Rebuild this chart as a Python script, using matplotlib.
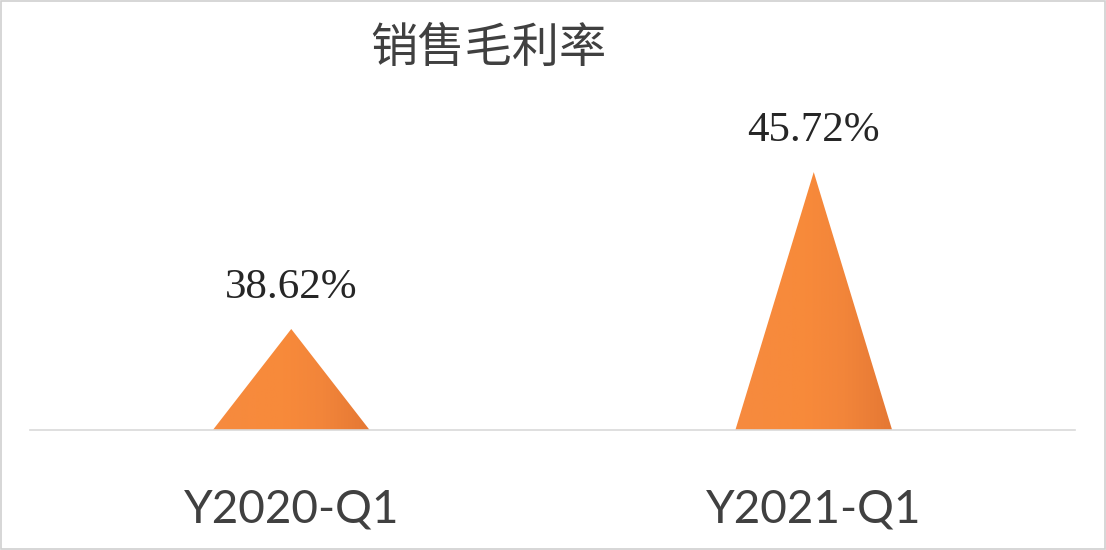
import matplotlib.pyplot as plt
import numpy as np
from matplotlib.patches import Polygon
from matplotlib.colors import LinearSegmentedColormap

categories = ["Y2020-Q1", "Y2021-Q1"]
values = [38.62, 45.72]
labels = ["38.62%", "45.72%"]
title = "销售毛利率"

fig = plt.figure(figsize=(11.06, 5.5), dpi=100)
ax = fig.add_axes([30 / 1106, 0.2182, 1045 / 1106, 0.6007])
ax.set_xlim(-0.5, 1.5)
ax.set_ylim(34.05, 49)

# orange shading, nearly flat with a darker right edge
cmap = LinearSegmentedColormap.from_list(
    "cone", [(0, "#F68A3F"), (0.45, "#F88A3A"), (0.7, "#F2853A"), (1, "#E57834")])
width = 0.30
grad = np.linspace(0, 1, 256).reshape(1, -1)
base = ax.get_ylim()[0]
for i, v in enumerate(values):
    tri = Polygon([(i - width / 2, base), (i, v), (i + width / 2, base)],
                  closed=True, facecolor="none", edgecolor="none")
    ax.add_patch(tri)
    im = ax.imshow(grad, cmap=cmap, aspect="auto",
                   extent=(i - width / 2, i + width / 2, base, v), zorder=2)
    im.set_clip_path(tri)
    ax.text(i, v + 1.0, labels[i], ha="center", va="bottom",
            fontsize=31, family="Liberation Serif", color="#262626")

ax.set_xlim(-0.5, 1.5)
ax.set_ylim(34.05, 49)
for s in ["top", "right", "left"]:
    ax.spines[s].set_visible(False)
ax.spines["bottom"].set_color("#D9D9D9")
ax.spines["bottom"].set_linewidth(1.2)
ax.set_yticks([])
ax.set_xticks(range(len(categories)))
ax.set_xticklabels(categories, fontsize=33, family="Lato", color="#404040")
ax.tick_params(axis="x", length=0, pad=42)

fig.text(488 / 1106, 1 - 49 / 550, title, ha="center", va="center",
         fontsize=34, family=["Noto Sans CJK SC", "DejaVu Sans"],
         fontweight="light", color="#404040")

fig.patches.append(plt.Rectangle((0.001, 0.002), 0.998, 0.996, fill=False,
                                 edgecolor="#D0D0D0", linewidth=1.2,
                                 transform=fig.transFigure))
fig.savefig("out.png", dpi=100)
